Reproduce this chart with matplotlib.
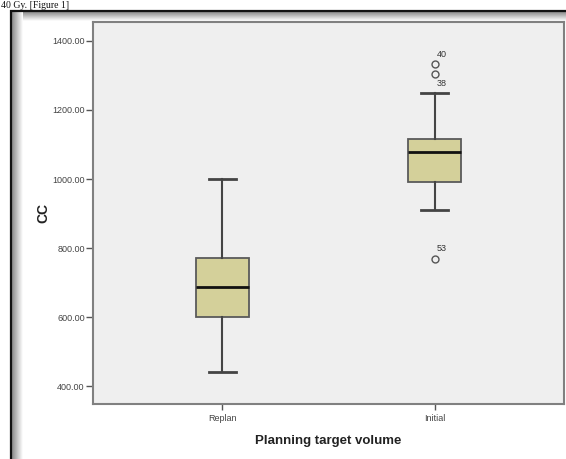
import matplotlib
matplotlib.use("Agg")
import matplotlib.pyplot as plt
import numpy as np

# ---- data ----
categories = ["Replan", "Initial"]
whisker_low = [440, 910]
q1 = [600, 990]
median = [688, 1078]
q3 = [770, 1115]
whisker_high = [1000, 1250]
outliers = [[], [1334, 1304, 769]]
outlier_labels = [[], ["40", "38", "53"]]
yticks = [400, 600, 800, 1000, 1200, 1400]
ytick_labels = ["400.00", "600.00", "800.00", "1000.00", "1200.00", "1400.00"]

W, H = 566, 459
fig = plt.figure(figsize=(W / 100, H / 100), dpi=100)
fig.patch.set_facecolor("white")

# ---- background frame (screenshot look) ----
bg = fig.add_axes([0, 0, 1, 1], zorder=0)
bg.set_xlim(0, W)
bg.set_ylim(H, 0)
bg.axis("off")
grad_v = np.linspace(0.5, 1.0, 64).reshape(-1, 1)
bg.imshow(np.repeat(grad_v, 2, axis=1), cmap="gray", vmin=0, vmax=1,
          extent=(10, W, 21, 11), aspect="auto", interpolation="bilinear")
grad_h = np.linspace(0.5, 1.0, 64).reshape(1, -1)
bg.imshow(np.repeat(grad_h, 2, axis=0), cmap="gray", vmin=0, vmax=1,
          extent=(11, 23, H, 11), aspect="auto", interpolation="bilinear")
bg.set_xlim(0, W)
bg.set_ylim(H, 0)
bg.plot([10, W], [10.5, 10.5], color="#111111", lw=1.6, solid_capstyle="butt")
bg.plot([10.5, 10.5], [10, H], color="#111111", lw=1.6, solid_capstyle="butt")
bg.text(1, 0.5, "40 Gy. [Figure 1]", fontsize=7, family="Liberation Serif",
        color="#111111", ha="left", va="top")

# ---- main axes ----
ax = fig.add_axes([93 / W, 1 - 404 / H, (564 - 93) / W, (404 - 22) / H], zorder=2)
ax.set_facecolor("#EFEFEF")

positions = [1, 2]
stats = []
for i, c in enumerate(categories):
    stats.append(dict(label=c, whislo=whisker_low[i], q1=q1[i], med=median[i],
                      q3=q3[i], whishi=whisker_high[i], fliers=outliers[i]))

ax.bxp(stats, positions=positions, widths=0.25, capwidths=0.13, patch_artist=True,
       boxprops=dict(facecolor="#D4D09A", edgecolor="#5a5a5a", linewidth=1.3),
       medianprops=dict(color="#111111", linewidth=2.0),
       whiskerprops=dict(color="#444444", linewidth=1.5),
       capprops=dict(color="#444444", linewidth=2.0),
       flierprops=dict(marker="o", markersize=5, markerfacecolor="none",
                       markeredgecolor="#555555", markeredgewidth=1.0))

label_pos = {"40": 1362, "38": 1278, "53": 798}
for i, labs in enumerate(outlier_labels):
    for lab in labs:
        ax.text(positions[i] + 0.012, label_pos[lab], lab, fontsize=6.5,
                family="Liberation Sans", color="#333333", ha="left", va="center")

ax.set_xlim(0.39, 2.61)
ax.set_ylim(348, 1455)
ax.set_yticks(yticks)
ax.set_yticklabels(ytick_labels)
ax.set_xticks(positions)
ax.set_xticklabels(categories)
ax.tick_params(axis="y", length=5, width=1.0, color="#555555", labelsize=6.5,
               labelcolor="#444444", pad=1)
ax.tick_params(axis="x", length=4, width=1.0, color="#555555", labelsize=6.5,
               labelcolor="#444444", pad=3)
for lab in ax.get_xticklabels() + ax.get_yticklabels():
    lab.set_family("Liberation Sans")
for s in ax.spines.values():
    s.set_color("#808080")
    s.set_linewidth(1.5)

ax.set_ylabel("CC", fontsize=10, fontweight="bold", family="Liberation Sans",
              color="#222222", labelpad=1)
ax.set_xlabel("Planning target volume", fontsize=9.5, fontweight="bold",
              family="Liberation Sans", color="#222222", labelpad=9)

fig.savefig("out.png", dpi=100)
